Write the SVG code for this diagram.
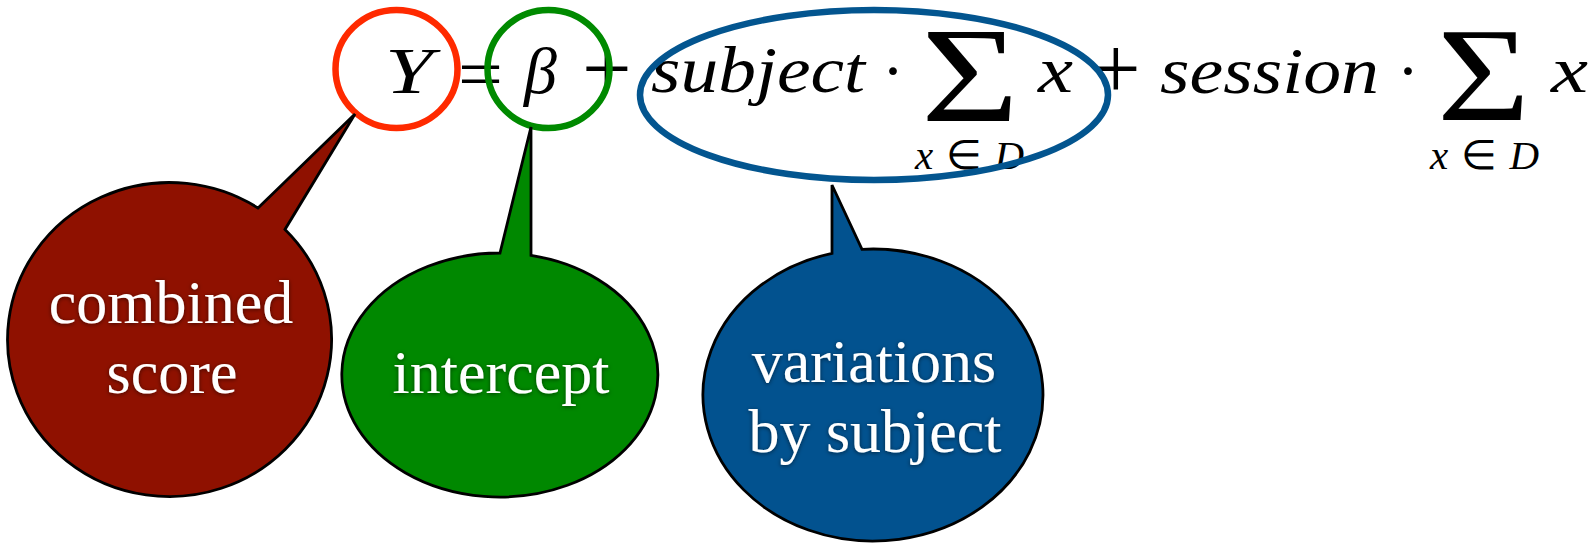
<svg xmlns="http://www.w3.org/2000/svg" width="1595" height="543" viewBox="0 0 1595 543">
<defs>
<style>
.mi{font-family:"Liberation Serif","Times New Roman",serif;font-style:italic;font-size:66px;fill:#000}
.mo{font-family:"Liberation Serif","Times New Roman",serif;font-style:normal;fill:#000}
.sub{font-family:"Liberation Serif","Times New Roman",serif;font-size:41px;fill:#000}
.ring{fill:none;stroke-width:6.5}
.bubble{stroke:#000;stroke-width:2.8;stroke-linejoin:miter}
.lbl{font-family:"Liberation Serif","Times New Roman",serif;font-size:62px;fill:#fff;text-anchor:middle;filter:url(#glow)}
</style>
<filter id="glow" x="-20%" y="-40%" width="140%" height="180%">
<feDropShadow dx="0" dy="1" stdDeviation="2" flood-color="#000" flood-opacity="0.55"/>
</filter>
</defs>
<rect width="1595" height="543" fill="#fff"/>
<g id="formula">
<text class="mi" x="385" y="93" textLength="48" lengthAdjust="spacingAndGlyphs">Y</text>
<text class="mo" x="458" y="98" font-size="70" textLength="45" lengthAdjust="spacingAndGlyphs">=</text>
<text class="mi" x="524" y="93">β</text>
<text class="mo" x="582" y="98" font-size="88">+</text>
<text class="mi" x="651" y="92" textLength="214" lengthAdjust="spacingAndGlyphs">subject</text>
<text class="mo" x="882" y="93" font-size="66">·</text>
<text class="mo" x="921" y="121" font-size="135" textLength="98" lengthAdjust="spacingAndGlyphs">Σ</text>
<text class="sub" x="915" y="169" textLength="109" lengthAdjust="spacing"><tspan font-style="italic">x</tspan>∈<tspan font-style="italic">D</tspan></text>
<text class="mi" x="1038" y="92" textLength="35" lengthAdjust="spacingAndGlyphs">x</text>
<text class="mo" x="1091" y="98" font-size="88">+</text>
<text class="mi" x="1160" y="93" textLength="219" lengthAdjust="spacingAndGlyphs">session</text>
<text class="mo" x="1397" y="93" font-size="66">·</text>
<text class="mo" x="1437" y="120" font-size="134" textLength="93" lengthAdjust="spacingAndGlyphs">Σ</text>
<text class="sub" x="1430" y="169" textLength="109" lengthAdjust="spacing"><tspan font-style="italic">x</tspan>∈<tspan font-style="italic">D</tspan></text>
<text class="mi" x="1551" y="92" textLength="37" lengthAdjust="spacingAndGlyphs">x</text>
</g>
<g id="highlight-Y"><ellipse class="ring" cx="396.5" cy="69" rx="61" ry="59" stroke="#FF2A00"/></g>
<g id="highlight-beta"><ellipse class="ring" cx="548.5" cy="69" rx="61" ry="59" stroke="#008A00"/></g>
<g id="highlight-subject"><ellipse class="ring" cx="874" cy="95" rx="234" ry="85" stroke="#03558F"/></g>
<g id="connectors"></g>
<g id="bubble-combined-score">
<path class="bubble" fill="#8F1100" d="M258 208 L355 114 L285 229.4 A162 157 0 1 1 258 208 Z"/>
<text class="lbl" x="171" y="323">combined</text>
<text class="lbl" x="172" y="393">score</text>
</g>
<g id="bubble-intercept">
<path class="bubble" fill="#008800" d="M500 253 L531 127 L531 255.4 A158 122 0 1 1 500 253 Z"/>
<text class="lbl" x="501" y="393">intercept</text>
</g>
<g id="bubble-variations">
<path class="bubble" fill="#02528F" d="M832 253.3 L832 185 L862 249.3 A170 146 0 1 1 832 253.3 Z"/>
<text class="lbl" x="874" y="382">variations</text>
<text class="lbl" x="875" y="452">by subject</text>
</g>
</svg>
